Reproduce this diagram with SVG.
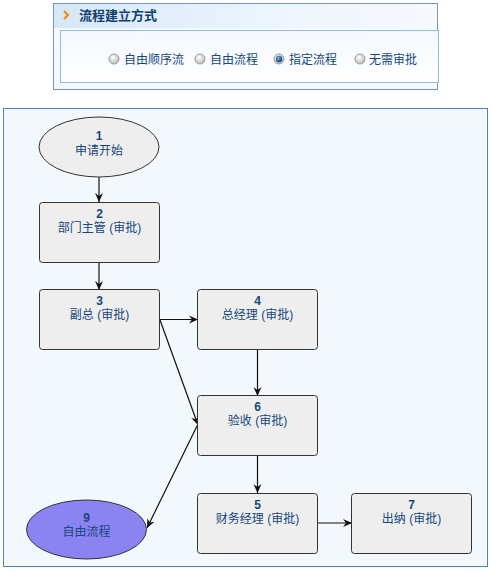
<svg xmlns="http://www.w3.org/2000/svg" width="491" height="572" viewBox="0 0 491 572">
<style>
.t{font-family:"Liberation Sans","Noto Sans CJK SC",sans-serif;fill:#16477b;font-size:12px;text-anchor:middle}
.n{font-weight:bold;font-size:12px}
.box{fill:#eeeeee;stroke:#333;stroke-width:1}
.c{stroke:#111;stroke-width:1.2;fill:none;marker-end:url(#ah)}
.rl{font-family:"Noto Sans CJK SC","Liberation Sans",sans-serif;fill:#16477b;font-size:12px}
</style>
<defs>
<marker id="ah" markerWidth="10" markerHeight="10" refX="9" refY="5" orient="auto" markerUnits="userSpaceOnUse">
<path d="M0,1 L9,5 L0,9 L3,5 Z" fill="#111"/>
</marker>
<linearGradient id="hdr" x1="0" y1="0" x2="1" y2="0">
<stop offset="0" stop-color="#d6e7f8"/>
<stop offset="0.6" stop-color="#eef5fc"/>
<stop offset="1" stop-color="#f6f9fd"/>
</linearGradient>
<linearGradient id="inner" x1="0" y1="0" x2="0" y2="1">
<stop offset="0" stop-color="#f3f8fd"/>
<stop offset="1" stop-color="#ffffff"/>
</linearGradient>
<radialGradient id="rad" cx="0.4" cy="0.35" r="0.7">
<stop offset="0" stop-color="#ffffff"/>
<stop offset="1" stop-color="#b8b8b8"/>
</radialGradient>
<radialGradient id="radsel" cx="0.4" cy="0.35" r="0.7">
<stop offset="0" stop-color="#6fb8ea"/>
<stop offset="1" stop-color="#082f66"/>
</radialGradient>
</defs>

<!-- top panel -->
<g id="panel-top">
<rect x="53.5" y="3.5" width="384" height="86" fill="#f5f9fd" stroke="#6f96c5"/>
<rect x="54" y="4" width="383" height="24" fill="url(#hdr)"/>
<path d="M64,11 L68,15 L64,19" fill="none" stroke="#f08a00" stroke-width="2"/>
<text x="79" y="20" style="font-family:'Noto Sans CJK SC','Liberation Sans',sans-serif;font-weight:bold;font-size:13px;fill:#123f70">流程建立方式</text>
<rect x="60.5" y="30.5" width="378" height="52" fill="url(#inner)" stroke="#8fbde6"/>
<circle cx="114" cy="59" r="5" fill="url(#rad)" stroke="#999"/>
<text class="rl" x="124" y="64">自由顺序流</text>
<circle cx="200" cy="59" r="5" fill="url(#rad)" stroke="#999"/>
<text class="rl" x="210" y="64">自由流程</text>
<circle cx="279" cy="59" r="5" fill="url(#rad)" stroke="#999"/>
<circle cx="279" cy="59" r="3.2" fill="url(#radsel)"/>
<text class="rl" x="289" y="64">指定流程</text>
<circle cx="360" cy="59" r="5" fill="url(#rad)" stroke="#999"/>
<text class="rl" x="369" y="64">无需审批</text>
</g>

<!-- main panel -->
<rect x="3.5" y="108.5" width="484" height="458" fill="#f3f8fc" stroke="#4d82c2"/>

<g id="connectors">
<line class="c" x1="99" y1="177" x2="99" y2="202"/>
<line class="c" x1="99" y1="263" x2="99" y2="290"/>
<line class="c" x1="159" y1="319.5" x2="198" y2="319.5"/>
<line class="c" x1="160" y1="320" x2="198" y2="425"/>
<line class="c" x1="198" y1="424" x2="147" y2="528"/>
<line class="c" x1="257.5" y1="349" x2="257.5" y2="396"/>
<line class="c" x1="257.5" y1="455" x2="257.5" y2="493"/>
<line class="c" x1="317" y1="523" x2="352" y2="523"/>
</g>

<g id="node1">
<ellipse class="box" cx="99" cy="147" rx="60" ry="30"/>
<text class="t n" x="99" y="140">1</text>
<text class="t" x="99" y="155">申请开始</text>
</g>
<g id="node2">
<rect class="box" x="39.5" y="202.5" width="120" height="60" rx="3"/>
<text class="t n" x="99.5" y="218">2</text>
<text class="t" x="99.5" y="232">部门主管 (审批)</text>
</g>
<g id="node3">
<rect class="box" x="39.5" y="289.5" width="120" height="60" rx="3"/>
<text class="t n" x="99.5" y="305">3</text>
<text class="t" x="99.5" y="319">副总 (审批)</text>
</g>
<g id="node4">
<rect class="box" x="197.5" y="289.5" width="120" height="60" rx="3"/>
<text class="t n" x="257.5" y="305">4</text>
<text class="t" x="257.5" y="319">总经理 (审批)</text>
</g>
<g id="node6">
<rect class="box" x="197.5" y="395.5" width="120" height="60" rx="3"/>
<text class="t n" x="257.5" y="411">6</text>
<text class="t" x="257.5" y="425">验收 (审批)</text>
</g>
<g id="node5">
<rect class="box" x="197.5" y="493.5" width="120" height="60" rx="3"/>
<text class="t n" x="257.5" y="509">5</text>
<text class="t" x="257.5" y="523">财务经理 (审批)</text>
</g>
<g id="node7">
<rect class="box" x="351.5" y="493.5" width="120" height="60" rx="3"/>
<text class="t n" x="411.5" y="509">7</text>
<text class="t" x="411.5" y="523">出纳 (审批)</text>
</g>
<g id="node9">
<ellipse cx="86.5" cy="529.5" rx="60" ry="29.5" fill="#8b83f2" stroke="#333"/>
<text class="t n" x="86.5" y="522">9</text>
<text class="t" x="86.5" y="536">自由流程</text>
</g>
</svg>
